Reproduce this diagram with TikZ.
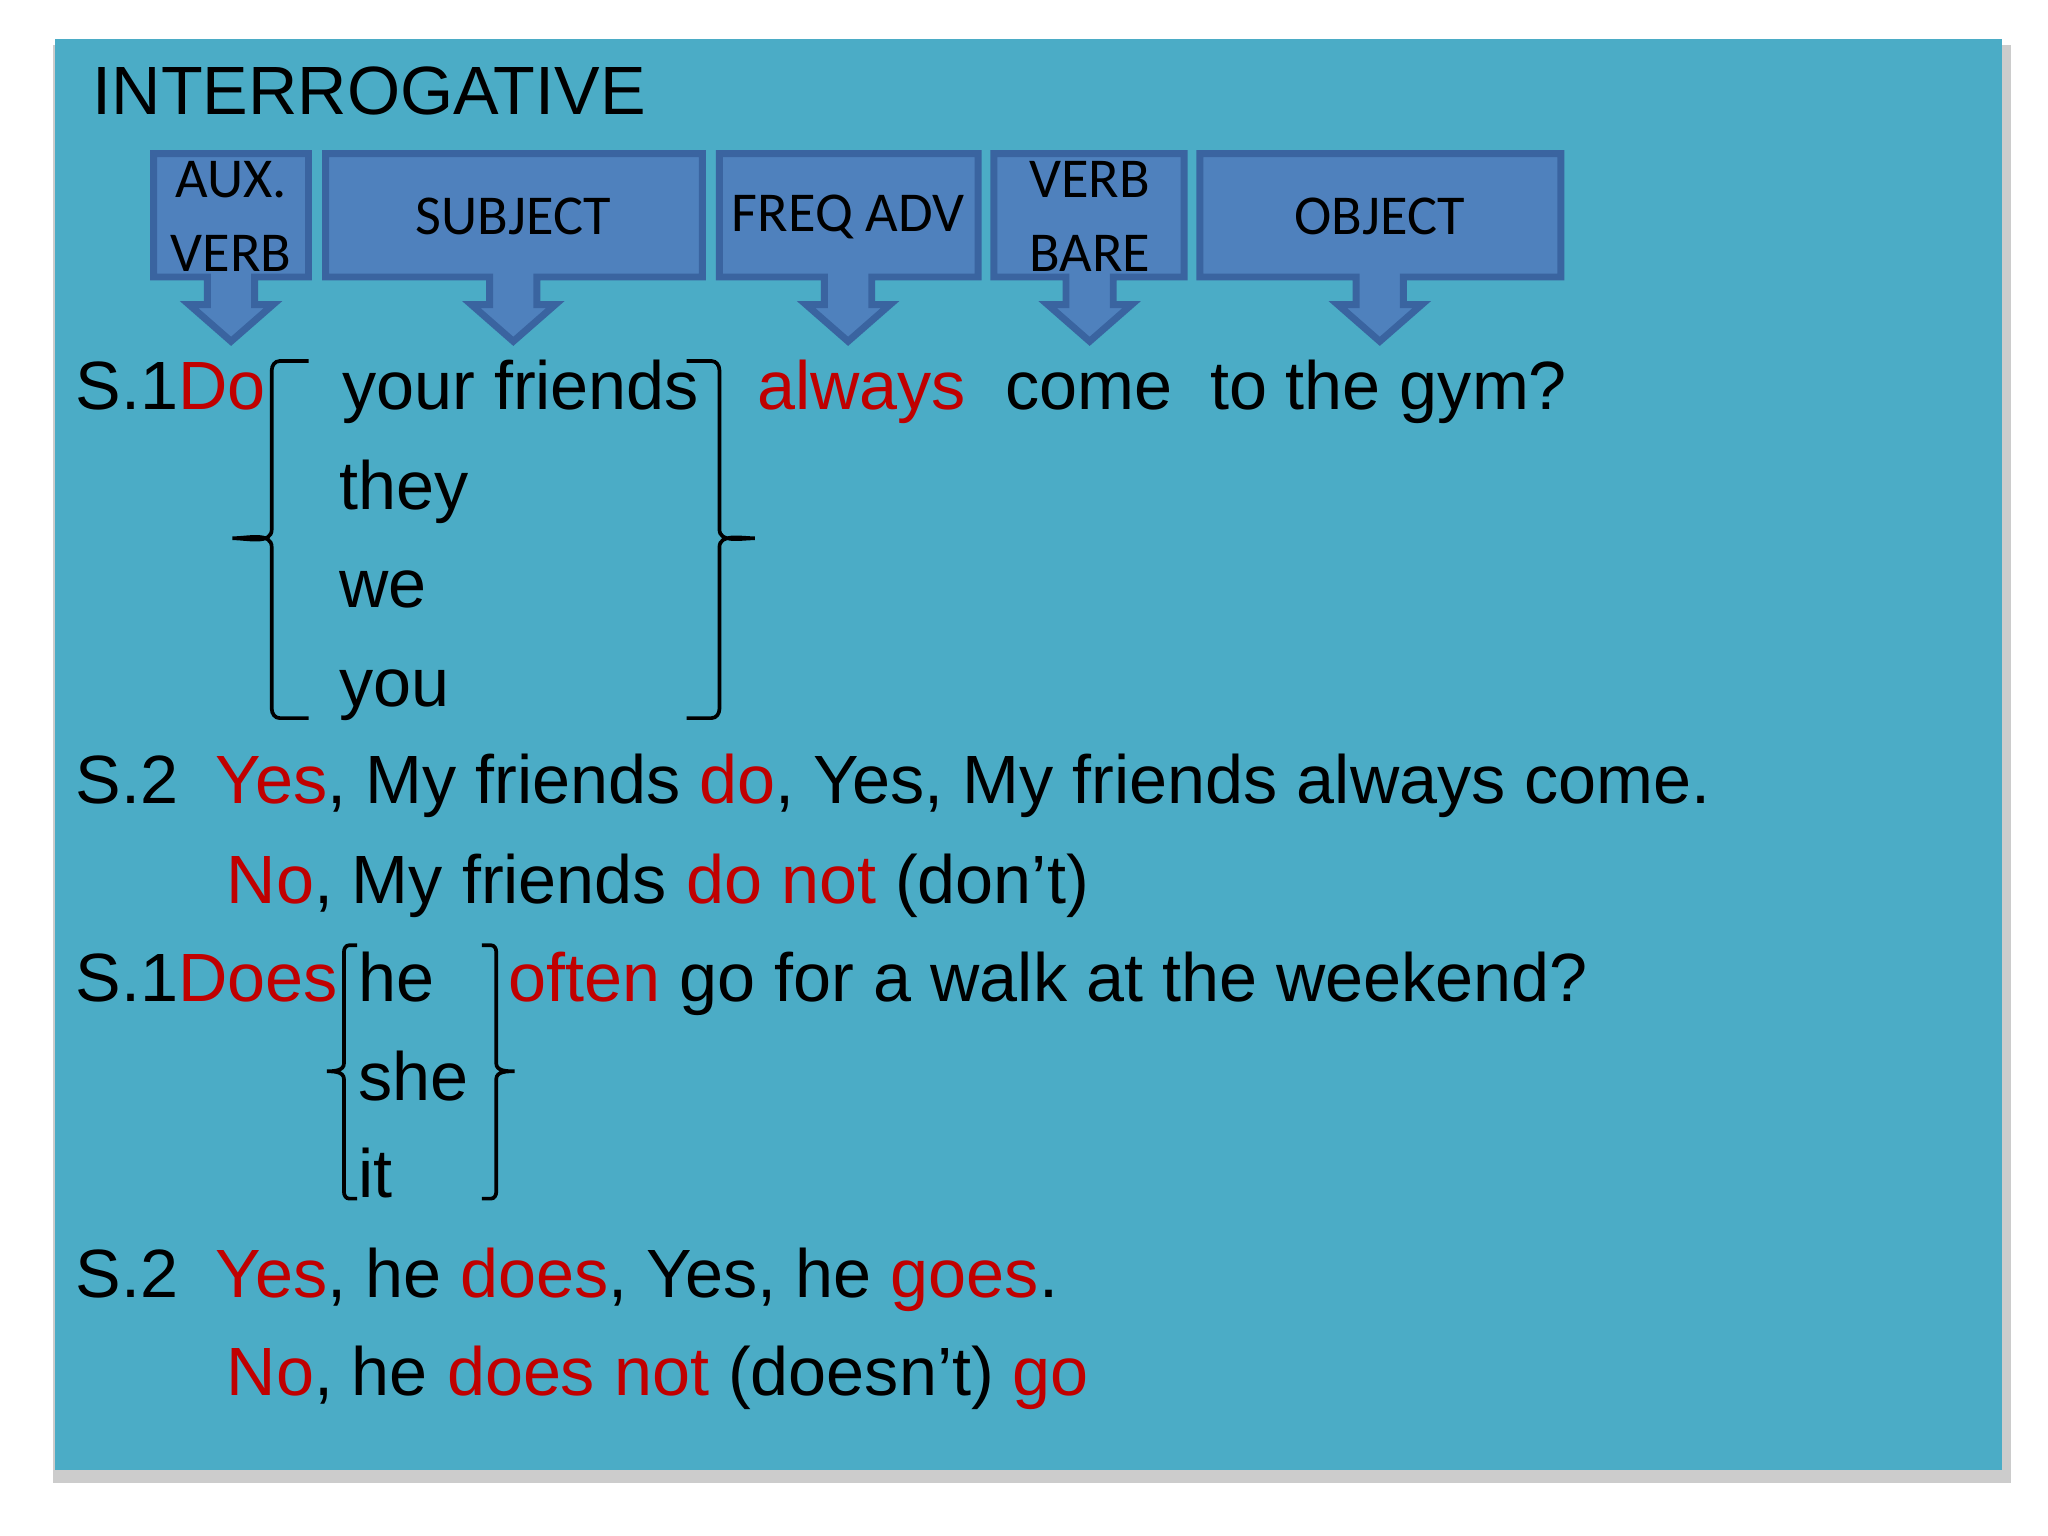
\documentclass[tikz,border=0pt]{standalone}
\usepackage{fontspec}
\setmainfont{Liberation Sans}
\newfontfamily\calib{Carlito}
\definecolor{panel}{HTML}{4BACC6}
\definecolor{callf}{HTML}{4F81BD}
\definecolor{calld}{HTML}{3A64A0}
\definecolor{rd}{HTML}{C00000}
\newcommand{\rr}[1]{\textcolor{rd}{#1}}
\begin{document}
\begin{tikzpicture}[x=0.01cm,y=-0.01cm,
  txt/.style={anchor=base west,inner sep=0pt,font=\fontsize{14.8}{17}\selectfont},
  lab/.style={align=center,inner sep=0pt,font=\calib\fontsize{12.2}{16}\selectfont},
  call/.style={fill=callf,draw=calld,line width=1.5pt,line join=miter},
  brk/.style={draw=black,line width=0.8pt}]
\useasboundingbox (0,0) rectangle (1560,1170);
\fill[gray!40] (40,34) rectangle (1532,1130);
\fill[panel] (42,30) rectangle (1525,1120);
\node[anchor=base west,inner sep=0pt,font=\fontsize{14.8}{17}\selectfont] (title) at (70,87) {INTERROGATIVE};
% callouts
\foreach \l/\r/\c in {117/235/176,248/535/391,548/745/646,757/902/830,914/1189/1051}{
  \draw[call] (\l,117) -- (\r,117) -- (\r,211) -- (\c+18,211) -- (\c+18,232) -- (\c+32,232)
   -- (\c,260) -- (\c-32,232) -- (\c-18,232) -- (\c-18,211) -- (\l,211) -- cycle;}
\node[lab] (c1) at (176,165) {AUX.\\VERB};
\node[lab] (c2) at (391,165) {SUBJECT};
\node[lab] (c3) at (646,165) {FREQ ADV};
\node[lab] (c4) at (830,165) {VERB\\BARE};
\node[lab] (c5) at (1051,165) {OBJECT};
% sentence 1
\node[txt] (s1) at (57,312) {S.1\rr{Do}};
\node[txt] (yf) at (260,312) {your friends};
\node[txt] (al) at (576,312) {\rr{always}};
\node[txt] (co) at (765,312) {come};
\node[txt] (gy) at (921,312) {to the gym?};
\node[txt] (th) at (258,388) {they};
\node[txt] (we) at (258,463) {we};
\node[txt] (yo) at (258,538) {you};
\draw[brk] (235,275) -- (213,275) to[out=180,in=90] (207,282) -- (207,403) to[out=-90,in=0] (177,410) to[out=0,in=90] (207,417) -- (207,540) to[out=-90,in=180] (213,547) -- (235,547);
\draw[brk] (523,275) -- (542,275) to[out=0,in=90] (548,282) -- (548,403) to[out=-90,in=180] (575,410) to[out=180,in=90] (548,417) -- (548,540) to[out=-90,in=0] (542,547) -- (523,547);
\node[txt] (a1) at (57,612) {S.2\hspace{0.55em}\rr{Yes}, My friends \rr{do}, Yes, My friends always come.};
\node[txt] (a2) at (172,688) {\rr{No}, My friends \rr{do not} (don’t)};
% sentence 2
\node[txt] (s3) at (57,763) {S.1\rr{Does}};
\node[txt] (he) at (272,763) {he};
\node[txt] (of) at (387,763) {\rr{often} go for a walk at the weekend?};
\node[txt] (sh) at (272,838) {she};
\node[txt] (it) at (272,912) {it};
\draw[brk] (272,720) -- (266,720) to[out=180,in=90] (262,725) -- (262,810) to[out=-90,in=0] (249,816) to[out=0,in=90] (262,822) -- (262,908) to[out=-90,in=180] (266,913) -- (272,913);
\draw[brk] (367,720) -- (374,720) to[out=0,in=90] (378,725) -- (378,810) to[out=-90,in=180] (392,816) to[out=180,in=90] (378,822) -- (378,908) to[out=-90,in=0] (374,913) -- (367,913);
\node[txt] (b1) at (57,988) {S.2\hspace{0.55em}\rr{Yes}, he \rr{does}, Yes, he \rr{goes}.};
\node[txt] (b2) at (172,1063) {\rr{No}, he \rr{does not} (doesn’t) \rr{go}};
\end{tikzpicture}
\end{document}
